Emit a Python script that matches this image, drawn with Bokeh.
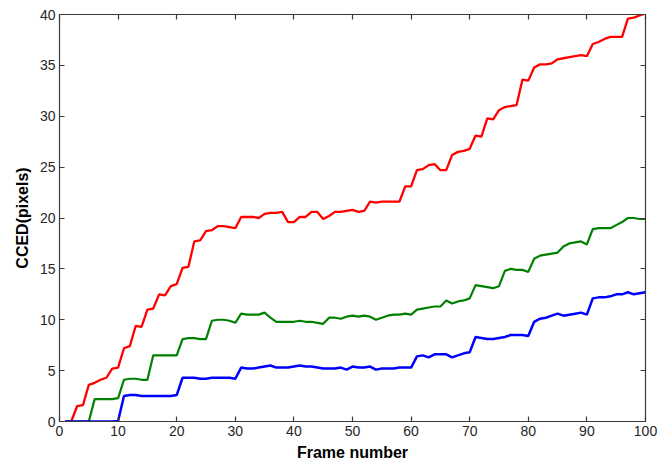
from bokeh.plotting import figure
from bokeh.models import LinearAxis, FixedTicker, Range1d, CustomJSTickFormatter
from bokeh.embed import file_html
from bokeh.resources import INLINE

frames = list(range(1, 101))
red_vals = [0.0, 0.0, 1.5, 1.6, 3.6, 3.8, 4.1, 4.3, 5.2, 5.3,
            7.2, 7.4, 9.4, 9.3, 11.0, 11.1, 12.5, 12.4, 13.3, 13.5,
            15.1, 15.2, 17.7, 17.8, 18.7, 18.8, 19.2, 19.2, 19.1, 19.0,
            20.1, 20.1, 20.1, 20.0, 20.4, 20.5, 20.5, 20.6, 19.6, 19.6,
            20.1, 20.1, 20.6, 20.6, 19.9, 20.2, 20.6, 20.6, 20.7, 20.8,
            20.6, 20.7, 21.6, 21.5, 21.6, 21.6, 21.6, 21.6, 23.1, 23.1,
            24.7, 24.8, 25.2, 25.3, 24.7, 24.7, 26.2, 26.5, 26.6, 26.8,
            28.1, 28.0, 29.8, 29.7, 30.6, 30.9, 31.0, 31.1, 33.6, 33.5,
            34.8, 35.1, 35.1, 35.2, 35.6, 35.7, 35.8, 35.9, 36.0, 35.9,
            37.1, 37.3, 37.6, 37.8, 37.8, 37.8, 39.6, 39.7, 39.9, 40.1]
green_vals = [0.0, 0.0, 0.0, 0.0, 0.0, 2.2, 2.2, 2.2, 2.2, 2.3,
              4.1, 4.2, 4.2, 4.1, 4.1, 6.5, 6.5, 6.5, 6.5, 6.5,
              8.1, 8.2, 8.2, 8.1, 8.1, 9.9, 10.0, 10.0, 9.9, 9.7,
              10.6, 10.5, 10.5, 10.5, 10.7, 10.2, 9.8, 9.8, 9.8, 9.8,
              9.9, 9.8, 9.8, 9.7, 9.6, 10.2, 10.2, 10.1, 10.3, 10.4,
              10.3, 10.4, 10.3, 10.0, 10.2, 10.4, 10.5, 10.5, 10.6, 10.5,
              11.0, 11.1, 11.2, 11.3, 11.3, 11.9, 11.6, 11.8, 11.9, 12.1,
              13.4, 13.3, 13.2, 13.1, 13.3, 14.8, 15.0, 14.9, 14.9, 14.7,
              16.0, 16.3, 16.4, 16.5, 16.6, 17.2, 17.5, 17.6, 17.7, 17.4,
              18.9, 19.0, 19.0, 19.0, 19.3, 19.6, 20.0, 20.0, 19.9, 19.9]
blue_vals = [0.0, 0.0, 0.0, 0.0, 0.0, 0.0, 0.0, 0.0, 0.0, 0.05,
             2.5, 2.6, 2.6, 2.5, 2.5, 2.5, 2.5, 2.5, 2.5, 2.6,
             4.3, 4.3, 4.3, 4.2, 4.2, 4.3, 4.3, 4.3, 4.3, 4.2,
             5.3, 5.2, 5.2, 5.3, 5.4, 5.5, 5.3, 5.3, 5.3, 5.4,
             5.5, 5.4, 5.4, 5.3, 5.2, 5.2, 5.2, 5.3, 5.1, 5.4,
             5.3, 5.3, 5.4, 5.1, 5.2, 5.2, 5.2, 5.3, 5.3, 5.3,
             6.4, 6.5, 6.3, 6.6, 6.6, 6.6, 6.3, 6.5, 6.7, 6.8,
             8.3, 8.2, 8.1, 8.1, 8.2, 8.3, 8.5, 8.5, 8.5, 8.4,
             9.8, 10.1, 10.2, 10.4, 10.6, 10.4, 10.5, 10.6, 10.7, 10.5,
             12.1, 12.2, 12.2, 12.3, 12.5, 12.5, 12.7, 12.5, 12.6, 12.7]

x_ticks = [0, 10, 20, 30, 40, 50, 60, 70, 80, 90, 100]
y_ticks = [0, 5, 10, 15, 20, 25, 30, 35, 40]
x_label = "Frame number"
y_label = "CCED(pixels)"

FONT = "Liberation Sans"
AXIS_COLOR = "#3a3a3a"

p = figure(width=669, height=465, output_backend="svg", toolbar_location=None,
           x_range=Range1d(0, 100), y_range=Range1d(0, 40),
           min_border_left=59, min_border_right=24, min_border_top=14,
           min_border_bottom=44)
p.background_fill_color = "white"
p.border_fill_color = "white"
p.outline_line_color = AXIS_COLOR
p.grid.visible = False

p.line(frames, red_vals, line_color="#ff0000", line_width=2.3)
p.line(frames, green_vals, line_color="#008000", line_width=2.2)
p.line(frames, blue_vals, line_color="#0000ff", line_width=2.5)

def style_axis(ax, labels=True):
    ax.axis_line_color = AXIS_COLOR
    ax.axis_line_width = 1.2
    ax.major_tick_line_color = AXIS_COLOR
    ax.major_tick_line_width = 1.2
    ax.major_tick_in = 5
    ax.major_tick_out = 0
    ax.minor_tick_line_color = None
    ax.major_label_text_font = FONT
    ax.major_label_text_font_size = "14px"
    ax.major_label_text_color = "#262626"
    ax.major_label_standoff = 4
    ax.axis_label_text_font = FONT
    ax.axis_label_text_font_size = "16px"
    ax.axis_label_text_font_style = "bold"
    ax.axis_label_text_color = "black"
    if not labels:
        ax.formatter = CustomJSTickFormatter(code="return '';")
        ax.major_label_standoff = 0

p.xaxis.ticker = FixedTicker(ticks=x_ticks)
p.yaxis.ticker = FixedTicker(ticks=y_ticks)
p.xaxis.axis_label = x_label
p.yaxis.axis_label = y_label
p.xaxis.axis_label_standoff = 5
p.yaxis.axis_label_standoff = 6
style_axis(p.xaxis[0])
style_axis(p.yaxis[0])

top_axis = LinearAxis(ticker=FixedTicker(ticks=x_ticks))
style_axis(top_axis, labels=False)
p.add_layout(top_axis, "above")
right_axis = LinearAxis(ticker=FixedTicker(ticks=y_ticks))
style_axis(right_axis, labels=False)
p.add_layout(right_axis, "right")

open("out.html", "w").write(file_html(p, INLINE))
